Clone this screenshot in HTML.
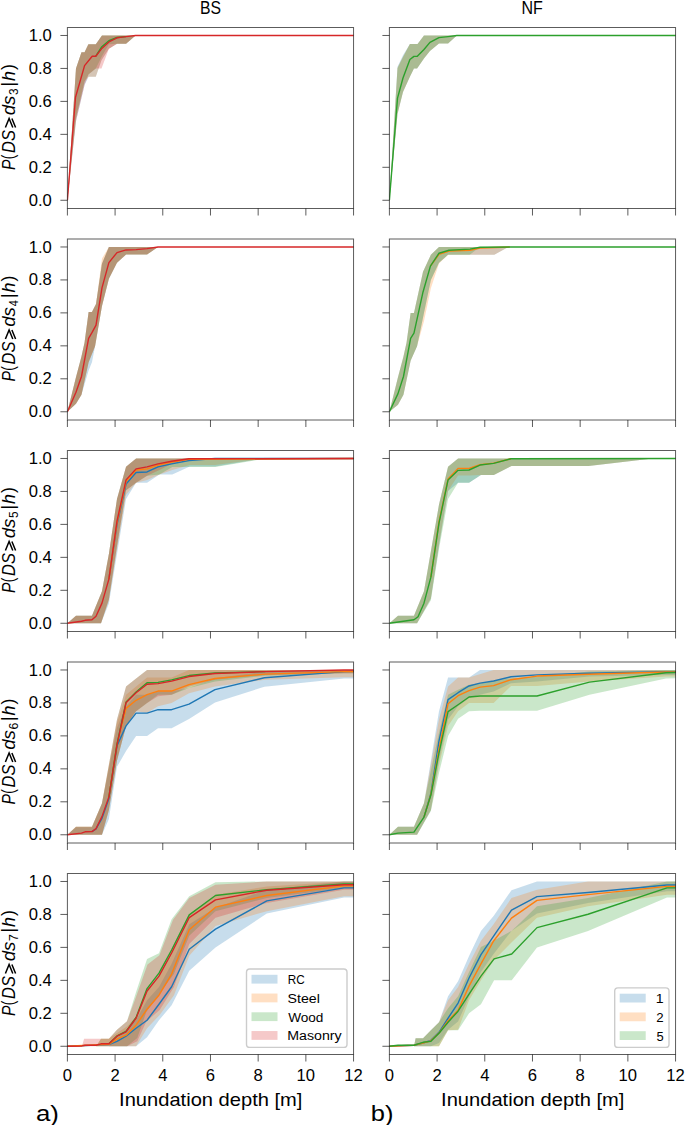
<!DOCTYPE html>
<html><head><meta charset="utf-8"><title>Fragility curves</title>
<style>html,body{margin:0;padding:0;background:#fff;}body{width:685px;height:1125px;overflow:hidden;font-family:"Liberation Sans",sans-serif;}svg{display:block;}</style>
</head><body>
<svg width="685" height="1125" viewBox="0 0 685 1125">
<rect width="685" height="1125" fill="#fff"/>
<defs>
<clipPath id="c00"><rect x="67.40" y="27.50" width="286.15" height="181.00"/></clipPath>
<clipPath id="c01"><rect x="389.40" y="27.50" width="286.15" height="181.00"/></clipPath>
<clipPath id="c10"><rect x="67.40" y="239.00" width="286.15" height="181.00"/></clipPath>
<clipPath id="c11"><rect x="389.40" y="239.00" width="286.15" height="181.00"/></clipPath>
<clipPath id="c20"><rect x="67.40" y="450.50" width="286.15" height="181.00"/></clipPath>
<clipPath id="c21"><rect x="389.40" y="450.50" width="286.15" height="181.00"/></clipPath>
<clipPath id="c30"><rect x="67.40" y="662.00" width="286.15" height="181.00"/></clipPath>
<clipPath id="c31"><rect x="389.40" y="662.00" width="286.15" height="181.00"/></clipPath>
<clipPath id="c40"><rect x="67.40" y="873.50" width="286.15" height="181.00"/></clipPath>
<clipPath id="c41"><rect x="389.40" y="873.50" width="286.15" height="181.00"/></clipPath>
</defs>
<g clip-path="url(#c00)">
<polygon points="67.40,200.27 75.98,68.43 81.47,52.28 84.57,52.28 88.38,44.20 95.78,44.20 101.98,35.47 360.70,35.47 360.70,35.47 135.60,35.47 126.06,43.71 117.00,43.71 108.89,48.65 101.50,60.19 95.78,76.67 88.62,76.67 84.57,84.91 81.47,98.09 75.98,121.17 67.40,200.27" fill="#1f77b4" fill-opacity="0.25"/>
<polygon points="67.40,200.27 75.98,68.43 81.47,52.28 84.57,52.28 88.38,44.20 95.78,44.20 101.98,35.47 360.70,35.47 360.70,35.47 135.60,35.47 126.06,43.71 117.00,43.71 108.89,48.65 101.50,60.19 95.78,76.67 88.62,76.67 84.57,81.61 81.47,94.80 75.98,117.87 67.40,200.27" fill="#ff7f0e" fill-opacity="0.25"/>
<polygon points="67.40,200.27 75.98,68.43 81.47,52.28 84.57,52.28 88.38,44.20 95.78,44.20 101.98,35.47 360.70,35.47 360.70,35.47 135.60,35.47 126.06,43.71 117.00,43.71 108.89,44.20 101.50,56.89 95.78,68.43 88.62,74.20 84.57,81.61 81.47,94.80 75.98,117.87 67.40,200.27" fill="#2ca02c" fill-opacity="0.25"/>
<polygon points="67.40,200.27 75.98,68.43 81.47,52.28 84.57,52.28 88.38,44.20 95.78,44.20 101.98,35.47 360.70,35.47 360.70,35.47 135.60,35.47 126.06,43.71 117.00,43.71 108.89,48.65 101.50,68.43 95.78,68.43 88.62,74.20 84.57,84.91 81.47,98.09 75.98,121.17 67.40,200.27" fill="#d62728" fill-opacity="0.25"/>
<polyline points="95.78,56.23 101.50,47.01 108.89,40.74 117.00,37.45 126.06,36.62" fill="none" stroke="#2ca02c" stroke-width="1.40" stroke-linejoin="round"/>
<polyline points="67.40,200.27 75.51,97.27 84.57,65.63 92.20,56.23 95.78,56.23 101.50,48.82 108.89,41.90 117.00,37.78 126.06,36.62 135.60,35.47 360.70,35.47" fill="none" stroke="#d62728" stroke-width="1.40" stroke-linejoin="round"/>
</g>
<g clip-path="url(#c01)">
<polygon points="389.40,200.27 397.51,66.78 402.99,55.25 409.91,44.04 417.54,44.04 423.98,35.47 682.70,35.47 682.70,35.47 456.88,35.47 448.06,43.55 439.00,43.55 429.94,50.96 423.98,58.54 417.06,68.43 413.96,68.43 409.91,76.67 402.99,92.00 397.51,113.91 389.40,200.27" fill="#1f77b4" fill-opacity="0.25"/>
<polygon points="389.40,200.27 397.51,67.94 402.99,56.89 409.91,44.04 417.54,44.04 423.98,35.47 682.70,35.47 682.70,35.47 456.88,35.47 448.06,43.55 439.00,43.55 429.94,50.96 423.98,58.54 417.06,68.43 413.96,68.43 409.91,76.67 402.99,92.00 397.51,113.91 389.40,200.27" fill="#ff7f0e" fill-opacity="0.25"/>
<polygon points="389.40,200.27 397.51,67.94 402.99,56.89 409.91,44.04 417.54,44.04 423.98,35.47 682.70,35.47 682.70,35.47 456.88,35.47 448.06,43.55 439.00,43.55 429.94,50.96 423.98,58.54 417.06,68.43 413.96,68.43 409.91,76.67 402.99,92.00 397.51,113.91 389.40,200.27" fill="#2ca02c" fill-opacity="0.25"/>
<polyline points="389.40,200.27 397.51,98.09 402.99,77.99 409.91,59.53 413.96,56.40 417.06,56.40 423.98,49.48 429.94,42.39 439.00,37.61 448.06,36.62 456.88,35.47 682.70,35.47" fill="none" stroke="#2ca02c" stroke-width="1.40" stroke-linejoin="round"/>
</g>
<g clip-path="url(#c10)">
<polygon points="67.40,411.77 75.98,377.16 81.47,356.56 84.57,342.55 88.62,312.07 91.96,312.07 96.02,303.99 101.98,263.78 108.89,246.97 360.70,246.97 360.70,246.97 158.01,246.97 147.05,254.55 126.06,254.55 117.00,262.63 108.89,278.78 101.98,305.97 95.06,346.34 91.96,362.33 88.62,370.57 81.47,394.63 75.98,403.69 67.40,411.77" fill="#1f77b4" fill-opacity="0.25"/>
<polygon points="67.40,411.77 75.98,377.16 81.47,356.56 84.57,342.55 88.62,312.07 91.96,312.07 96.02,303.99 101.98,258.51 108.89,246.97 360.70,246.97 360.70,246.97 158.01,246.97 147.05,254.55 126.06,254.55 117.00,262.63 108.89,278.78 101.98,305.97 95.06,346.34 88.62,362.33 81.47,394.63 75.98,403.69 67.40,411.77" fill="#ff7f0e" fill-opacity="0.25"/>
<polygon points="67.40,411.77 75.98,377.16 81.47,356.56 84.57,342.55 88.62,312.07 91.96,312.07 96.02,303.99 101.98,263.78 108.89,246.97 360.70,246.97 360.70,246.97 158.01,246.97 147.05,254.55 126.06,254.55 117.00,262.63 108.89,278.78 101.98,305.97 95.06,346.34 88.62,362.33 81.47,394.63 75.98,403.69 67.40,411.77" fill="#2ca02c" fill-opacity="0.25"/>
<polygon points="67.40,411.77 75.98,377.16 81.47,356.56 84.57,342.55 88.62,312.07 91.96,312.07 96.02,303.99 101.98,263.78 108.89,246.97 360.70,246.97 360.70,246.97 158.01,246.97 147.05,254.55 126.06,254.55 117.00,262.63 108.89,278.78 101.98,305.97 95.06,346.34 88.62,362.33 81.47,394.63 75.98,403.69 67.40,411.77" fill="#d62728" fill-opacity="0.25"/>
<polyline points="67.40,411.77 75.98,392.16 81.47,376.50 88.62,338.27 91.96,332.67 96.02,325.09 101.98,287.84 108.89,262.63 117.00,252.57 126.06,249.94 136.08,249.61 147.05,248.62 158.01,246.97 360.70,246.97" fill="none" stroke="#d62728" stroke-width="1.40" stroke-linejoin="round"/>
</g>
<g clip-path="url(#c11)">
<polygon points="389.40,411.77 397.98,377.16 403.47,356.56 406.57,342.55 410.62,312.89 413.96,312.89 423.02,271.69 430.89,254.72 439.00,246.97 682.70,246.97 682.70,246.97 508.39,246.97 494.32,254.72 448.06,254.72 439.00,262.63 430.89,279.93 423.98,312.89 417.06,346.34 410.62,360.68 403.47,394.63 397.98,404.68 389.40,411.77" fill="#1f77b4" fill-opacity="0.25"/>
<polygon points="389.40,411.77 397.98,377.16 403.47,356.56 406.57,342.55 410.62,312.89 413.96,312.89 423.02,271.69 430.89,254.72 439.00,246.97 682.70,246.97 682.70,246.97 508.39,246.97 494.32,254.72 448.06,254.72 439.00,263.45 430.89,288.17 423.98,321.13 417.06,346.34 410.62,360.68 403.47,394.63 397.98,404.68 389.40,411.77" fill="#ff7f0e" fill-opacity="0.25"/>
<polygon points="389.40,411.77 397.98,377.16 403.47,356.56 406.57,342.55 410.62,312.89 413.96,312.89 423.02,271.69 430.89,254.72 439.00,246.97 682.70,246.97 682.70,246.97 479.78,246.97 469.76,254.72 448.06,254.72 439.00,262.63 430.89,279.93 423.98,312.89 417.06,346.34 410.62,360.68 403.47,394.63 397.98,404.68 389.40,411.77" fill="#2ca02c" fill-opacity="0.25"/>
<polyline points="430.41,266.09 439.00,254.39 449.01,251.09 470.00,250.27 480.01,247.96 509.82,246.97" fill="none" stroke="#ff7f0e" stroke-width="1.40" stroke-linejoin="round"/>
<polyline points="389.40,411.77 397.98,393.64 403.47,376.50 410.62,338.27 413.96,333.16 423.02,291.96 430.41,266.09 439.00,253.23 449.01,250.27 470.00,249.11 480.01,247.30 509.82,246.97 682.70,246.97" fill="none" stroke="#2ca02c" stroke-width="1.40" stroke-linejoin="round"/>
</g>
<g clip-path="url(#c20)">
<polygon points="67.40,623.27 75.98,615.69 91.96,615.69 101.98,591.13 108.89,554.05 117.00,499.01 126.06,466.87 136.08,458.47 360.70,458.47 360.70,458.47 254.11,460.12 215.24,466.38 189.73,466.38 172.32,474.62 159.44,474.62 147.05,482.86 136.08,482.86 126.06,499.01 117.00,554.05 108.89,603.49 101.02,623.27 67.40,623.27" fill="#1f77b4" fill-opacity="0.25"/>
<polygon points="67.40,623.27 75.98,615.69 91.96,615.69 101.98,591.13 108.89,554.05 117.00,499.01 126.06,466.87 136.08,458.47 360.70,458.47 360.70,458.47 254.11,460.12 215.24,465.06 189.73,465.06 172.32,470.01 159.44,474.62 147.05,479.89 136.08,482.86 126.06,494.73 117.00,549.11 108.89,600.20 101.02,623.27 67.40,623.27" fill="#ff7f0e" fill-opacity="0.25"/>
<polygon points="67.40,623.27 75.98,615.69 91.96,615.69 101.98,591.13 108.89,554.05 117.00,499.01 126.06,466.87 136.08,458.47 360.70,458.47 360.70,458.47 266.51,458.47 215.24,467.04 189.73,467.04 172.32,467.04 159.44,474.62 147.05,475.77 136.08,482.86 126.06,490.28 117.00,545.81 108.89,599.21 101.02,623.27 67.40,623.27" fill="#2ca02c" fill-opacity="0.25"/>
<polygon points="67.40,623.27 75.98,615.69 91.96,615.69 101.98,591.13 108.89,554.05 117.00,499.01 126.06,466.87 136.08,458.47 360.70,458.47 360.70,458.47 189.73,458.47 172.32,463.41 159.44,470.01 147.05,475.77 136.08,482.86 126.06,490.28 117.00,545.81 108.89,599.21 101.02,623.27 67.40,623.27" fill="#d62728" fill-opacity="0.25"/>
<polyline points="108.89,579.10 117.00,524.39 126.06,484.01 136.08,472.48 147.05,471.98 158.01,466.87 171.61,463.91 189.01,460.45 215.01,458.47 360.70,458.47" fill="none" stroke="#1f77b4" stroke-width="1.40" stroke-linejoin="round"/>
<polyline points="108.89,579.10 117.00,522.74 126.06,481.54 136.08,470.01 147.05,468.85 158.01,465.06 171.61,462.10 189.01,459.29 360.70,458.47" fill="none" stroke="#ff7f0e" stroke-width="1.40" stroke-linejoin="round"/>
<polyline points="67.40,623.27 81.47,621.29 85.05,620.30 91.96,619.81 96.02,616.18 101.98,603.16 108.89,579.10 117.00,521.09 126.06,479.89 136.08,468.85 147.05,466.87 158.01,463.91 171.61,461.27 189.01,458.80 360.70,458.47" fill="none" stroke="#d62728" stroke-width="1.40" stroke-linejoin="round"/>
</g>
<g clip-path="url(#c21)">
<polygon points="389.40,623.27 397.98,615.69 413.96,615.69 423.98,591.13 439.00,504.61 448.06,466.87 458.08,458.47 682.70,458.47 682.70,458.47 652.66,458.47 588.51,465.89 511.49,465.89 493.84,474.95 480.97,474.95 469.05,482.86 458.08,482.86 448.06,490.94 439.00,545.81 430.89,598.55 417.06,623.27 389.40,623.27" fill="#1f77b4" fill-opacity="0.25"/>
<polygon points="389.40,623.27 397.98,615.69 413.96,615.69 423.98,591.13 439.00,504.61 448.06,466.87 458.08,458.47 682.70,458.47 682.70,458.47 652.66,458.47 588.51,465.89 511.49,465.89 493.84,474.95 480.97,474.95 469.05,475.44 458.08,475.44 448.06,490.94 439.00,544.17 430.89,598.22 417.06,623.27 389.40,623.27" fill="#ff7f0e" fill-opacity="0.25"/>
<polygon points="389.40,623.27 397.98,615.69 413.96,615.69 423.98,591.13 439.00,504.61 448.06,466.87 458.08,458.47 682.70,458.47 682.70,458.47 652.66,458.47 588.51,465.89 511.49,465.89 493.84,474.95 480.97,474.95 469.05,482.86 458.08,482.86 448.06,499.01 439.00,549.11 430.89,600.20 417.06,623.27 389.40,623.27" fill="#2ca02c" fill-opacity="0.25"/>
<polyline points="430.89,577.13 439.00,521.92 448.06,479.07 458.08,468.36 469.05,468.36 480.01,464.73 493.61,463.08 511.01,458.80" fill="none" stroke="#ff7f0e" stroke-width="1.40" stroke-linejoin="round"/>
<polyline points="389.40,623.27 403.47,621.29 413.96,619.81 418.01,616.68 423.98,603.16 430.89,577.13 439.00,523.07 448.06,479.89 458.08,470.34 469.05,470.01 480.01,465.06 493.61,463.41 511.01,458.80 682.70,458.47" fill="none" stroke="#2ca02c" stroke-width="1.40" stroke-linejoin="round"/>
</g>
<g clip-path="url(#c30)">
<polygon points="67.40,834.77 75.98,827.19 91.96,827.19 101.98,803.46 117.00,727.65 126.06,706.23 136.08,694.69 147.05,694.69 158.01,691.39 171.61,691.39 189.01,688.10 215.01,678.21 265.32,671.62 360.70,669.97 360.70,678.54 344.01,678.54 264.37,686.78 215.01,702.60 189.01,718.92 171.61,728.31 158.01,728.31 147.05,735.89 136.08,735.89 126.06,750.89 117.00,766.87 108.89,819.11 101.98,834.77 67.40,834.77" fill="#1f77b4" fill-opacity="0.25"/>
<polygon points="67.40,834.77 75.98,826.69 91.96,826.69 101.98,803.13 117.00,722.71 126.06,694.69 136.08,686.61 147.05,677.55 171.61,677.55 189.01,669.97 360.70,669.97 360.70,677.22 344.01,677.22 265.32,679.86 215.01,686.45 189.01,693.37 171.61,702.93 158.01,706.23 147.05,712.82 136.08,711.17 126.06,726.00 117.00,760.61 108.89,810.05 101.98,834.77 67.40,834.77" fill="#ff7f0e" fill-opacity="0.25"/>
<polygon points="67.40,834.77 75.98,826.69 91.96,826.69 101.98,803.13 117.00,719.41 126.06,686.61 136.08,678.54 147.05,669.97 360.70,669.97 360.70,673.27 344.01,673.27 265.32,675.74 215.01,681.51 189.01,688.10 171.61,694.69 158.01,694.69 147.05,702.93 136.08,711.17 126.06,726.00 117.00,760.61 108.89,810.05 101.98,834.77 67.40,834.77" fill="#2ca02c" fill-opacity="0.25"/>
<polygon points="67.40,834.77 75.98,826.69 91.96,826.69 101.98,803.13 117.00,719.41 126.06,686.61 136.08,678.54 147.05,669.97 360.70,669.97 360.70,673.27 344.01,673.27 265.32,674.91 215.01,679.86 189.01,686.45 171.61,694.69 158.01,696.34 147.05,702.93 136.08,711.17 126.06,726.00 117.00,760.61 108.89,810.05 101.98,834.77 67.40,834.77" fill="#d62728" fill-opacity="0.25"/>
<polyline points="91.96,831.64 96.02,829.00 101.98,818.29 108.89,798.51 117.00,745.78 126.06,725.84 136.08,713.15 147.05,713.15 158.01,709.69 171.61,709.69 189.01,704.08 215.01,689.58 264.37,677.72 344.01,671.62 360.70,670.96" fill="none" stroke="#1f77b4" stroke-width="1.40" stroke-linejoin="round"/>
<polyline points="108.89,797.03 117.00,744.13 126.06,708.37 136.08,700.29 147.05,694.69 158.01,691.06 171.61,691.06 189.01,684.64 215.01,678.54 265.32,674.09 344.01,671.62 360.70,671.62" fill="none" stroke="#ff7f0e" stroke-width="1.40" stroke-linejoin="round"/>
<polyline points="108.89,797.03 117.00,744.13 126.06,702.11 136.08,692.05 147.05,682.82 158.01,682.33 171.61,679.86 189.01,675.57 215.01,672.94 265.32,671.62" fill="none" stroke="#2ca02c" stroke-width="1.40" stroke-linejoin="round"/>
<polyline points="67.40,834.77 81.47,833.12 85.05,831.80 91.96,831.64 96.02,828.67 101.98,816.64 108.89,797.03 117.00,744.79 126.06,702.77 136.08,692.71 147.05,684.31 158.01,683.65 171.61,681.18 189.01,676.56 215.01,673.43 265.32,671.62 344.01,669.97 360.70,669.97" fill="none" stroke="#d62728" stroke-width="1.40" stroke-linejoin="round"/>
</g>
<g clip-path="url(#c31)">
<polygon points="389.40,834.77 397.98,826.69 413.96,826.69 423.98,803.13 439.00,711.17 448.06,677.55 469.05,677.55 480.01,669.97 682.70,669.97 682.70,674.91 666.01,674.91 589.47,676.56 537.01,681.51 511.01,683.15 493.61,691.39 480.01,694.69 469.05,697.99 458.08,706.23 448.06,719.41 439.00,760.61 430.89,810.05 417.06,834.77 389.40,834.77" fill="#1f77b4" fill-opacity="0.25"/>
<polygon points="389.40,834.77 397.98,826.69 413.96,826.69 423.98,803.13 439.00,719.41 448.06,686.45 458.08,677.55 469.05,677.55 493.61,669.97 682.70,669.97 682.70,676.56 666.01,676.56 589.47,681.51 537.01,685.96 511.01,685.96 493.61,702.93 480.01,702.93 469.05,702.93 458.08,711.17 448.06,726.00 439.00,765.55 430.89,810.05 417.06,834.77 389.40,834.77" fill="#ff7f0e" fill-opacity="0.25"/>
<polygon points="389.40,834.77 397.98,826.69 413.96,826.69 423.98,803.13 439.00,732.59 448.06,694.69 458.08,689.75 469.05,684.80 480.01,683.15 511.01,678.21 537.01,676.56 589.47,671.62 666.01,669.97 682.70,669.97 682.70,678.21 666.01,678.54 589.47,694.69 537.01,710.84 480.01,710.84 469.05,711.33 458.08,718.75 448.06,735.89 439.00,772.97 430.89,811.04 417.06,834.77 389.40,834.77" fill="#2ca02c" fill-opacity="0.25"/>
<polyline points="423.98,817.14 430.89,793.57 439.00,740.83 448.06,699.63 458.08,692.71 469.05,685.96 480.01,683.15 493.61,681.01 511.01,676.73 537.01,674.91 588.51,673.27 666.01,671.62 682.70,671.62" fill="none" stroke="#1f77b4" stroke-width="1.40" stroke-linejoin="round"/>
<polyline points="423.98,817.14 430.89,794.39 439.00,749.07 448.06,703.75 458.08,695.68 469.05,690.57 480.01,687.11 493.61,685.63 511.01,679.69 537.01,676.07 588.51,674.25 666.01,671.95 682.70,671.95" fill="none" stroke="#ff7f0e" stroke-width="1.40" stroke-linejoin="round"/>
<polyline points="389.40,834.77 397.98,833.12 413.96,832.13 423.98,817.14 430.89,795.05 439.00,752.86 448.06,711.66 458.08,704.74 469.05,697.00 480.01,696.01 510.06,696.01 537.01,696.01 589.47,682.17 666.01,672.77 682.70,672.44" fill="none" stroke="#2ca02c" stroke-width="1.40" stroke-linejoin="round"/>
</g>
<g clip-path="url(#c40)">
<polygon points="67.40,1046.27 108.89,1046.27 117.00,1036.38 126.06,1029.79 136.08,1019.90 147.05,1000.13 158.97,986.94 171.61,963.87 189.25,924.32 215.48,907.84 266.75,889.71 344.01,881.47 360.70,881.47 360.70,897.46 344.01,897.46 266.75,913.61 215.48,947.39 189.25,970.63 171.61,1005.23 158.97,1020.23 147.05,1037.21 136.08,1046.27 67.40,1046.27" fill="#1f77b4" fill-opacity="0.25"/>
<polygon points="67.40,1046.27 96.02,1046.27 101.02,1038.69 108.89,1038.69 117.00,1033.09 127.01,1026.49 136.08,1016.61 147.05,990.24 158.97,975.41 171.61,950.69 189.25,914.43 215.48,894.65 266.75,886.41 344.01,881.47 360.70,881.47 360.70,896.30 344.01,896.30 266.75,911.13 215.48,925.97 189.25,955.63 173.99,995.18 159.68,1014.96 147.05,1028.14 136.08,1046.27 67.40,1046.27" fill="#ff7f0e" fill-opacity="0.25"/>
<polygon points="67.40,1046.27 96.02,1046.27 101.02,1038.69 108.89,1038.69 117.00,1029.79 127.01,1021.22 136.08,991.89 147.05,958.93 158.97,953.16 171.61,919.37 189.25,896.30 215.48,882.13 266.75,881.47 360.70,881.47 360.70,888.06 344.01,888.06 266.75,897.95 215.48,911.13 189.25,935.85 173.99,973.76 159.68,993.53 146.33,1011.99 137.27,1038.03 127.01,1046.27 67.40,1046.27" fill="#2ca02c" fill-opacity="0.25"/>
<polygon points="67.40,1046.27 81.95,1046.27 84.09,1038.69 108.89,1038.69 117.00,1029.79 127.01,1021.22 136.08,996.83 147.52,964.53 159.44,955.30 173.04,919.87 189.25,897.95 215.48,884.77 266.75,881.47 360.70,881.47 360.70,889.71 344.01,889.71 266.75,902.89 215.48,917.73 189.25,944.09 173.99,986.94 159.68,1010.01 146.33,1021.55 137.27,1041.33 127.01,1046.27 67.40,1046.27" fill="#d62728" fill-opacity="0.25"/>
<polyline points="67.40,1046.27 108.89,1044.62 117.00,1041.33 126.06,1036.22 136.08,1028.31 147.05,1020.23 158.97,1004.25 171.61,986.78 189.25,949.20 215.48,929.10 266.75,900.92 344.01,887.90 360.70,887.90" fill="none" stroke="#1f77b4" stroke-width="1.40" stroke-linejoin="round"/>
<polyline points="67.40,1046.27 108.89,1044.29 117.00,1039.18 126.06,1035.23 136.08,1025.18 147.05,1009.19 158.97,995.18 171.61,974.09 189.25,929.76 215.48,907.18 266.75,895.48 344.01,885.92 360.70,885.92" fill="none" stroke="#ff7f0e" stroke-width="1.40" stroke-linejoin="round"/>
<polyline points="108.89,1043.80 117.00,1035.89 126.06,1031.44 136.08,1017.43 147.05,988.59 158.97,973.10 171.61,950.03 189.25,914.92 215.48,895.48 266.75,889.71 344.01,883.94 360.70,883.94" fill="none" stroke="#2ca02c" stroke-width="1.40" stroke-linejoin="round"/>
<polyline points="67.40,1046.27 81.95,1045.94 85.05,1045.28 96.02,1045.28 101.02,1043.80 108.89,1043.80 117.00,1036.22 126.06,1031.77 136.08,1018.25 147.05,991.06 158.97,976.07 171.61,952.99 189.25,917.56 215.48,899.93 266.75,890.20 344.01,884.77 360.70,884.77" fill="none" stroke="#d62728" stroke-width="1.40" stroke-linejoin="round"/>
</g>
<g clip-path="url(#c41)">
<polygon points="389.40,1046.27 413.96,1046.27 415.63,1038.19 423.02,1038.19 430.89,1030.28 439.00,1022.21 448.06,996.17 458.08,981.17 469.05,956.12 480.97,930.91 493.61,915.91 511.49,890.20 537.01,881.47 682.70,881.47 682.70,891.36 666.97,891.36 588.04,902.89 537.01,913.61 511.49,930.91 493.61,953.98 480.97,972.11 469.05,996.83 458.08,1021.55 448.06,1029.79 439.00,1042.97 430.89,1046.27 389.40,1046.27" fill="#1f77b4" fill-opacity="0.25"/>
<polygon points="389.40,1046.27 413.96,1046.27 415.63,1038.19 423.02,1038.19 430.89,1030.28 439.00,1022.21 448.06,1000.13 458.08,986.94 469.05,963.87 480.97,940.80 493.61,924.32 511.49,897.95 537.01,889.71 588.04,881.47 682.70,881.47 682.70,894.65 666.97,894.65 588.04,906.19 537.01,917.73 511.49,942.45 493.61,960.57 480.97,980.35 469.05,1000.13 458.08,1029.79 448.06,1030.28 439.00,1046.27 389.40,1046.27" fill="#ff7f0e" fill-opacity="0.25"/>
<polygon points="389.40,1046.27 413.96,1046.27 415.63,1038.19 423.02,1038.19 430.89,1030.28 439.00,1022.21 448.06,1008.37 458.08,996.17 469.05,972.11 480.97,947.06 493.61,940.80 511.49,930.91 521.03,922.01 537.01,906.19 588.04,897.95 666.97,881.47 682.70,881.47 682.70,897.46 666.97,897.46 588.04,931.07 537.01,947.39 511.73,980.35 494.08,980.35 480.97,1004.25 469.05,1013.31 458.08,1030.28 448.06,1030.28 439.00,1046.27 389.40,1046.27" fill="#2ca02c" fill-opacity="0.25"/>
<polyline points="389.40,1046.27 413.96,1045.28 423.02,1042.97 430.89,1040.34 439.00,1032.26 448.06,1018.25 458.08,1003.09 469.05,978.04 480.97,954.64 493.61,936.02 511.49,910.15 537.01,896.63 588.04,892.51 666.97,884.93 682.70,884.93" fill="none" stroke="#1f77b4" stroke-width="1.40" stroke-linejoin="round"/>
<polyline points="389.40,1046.27 413.96,1045.28 423.02,1042.97 430.89,1040.83 439.00,1033.09 448.06,1020.73 458.08,1010.18 469.05,986.12 480.97,963.87 493.61,940.96 511.49,918.06 537.01,900.42 588.04,894.65 666.97,886.41 682.70,886.41" fill="none" stroke="#ff7f0e" stroke-width="1.40" stroke-linejoin="round"/>
<polyline points="389.40,1046.27 397.98,1045.28 413.96,1045.28 423.02,1042.31 430.89,1041.33 439.00,1033.25 448.06,1022.21 458.08,1011.17 469.05,994.19 480.97,976.07 494.08,958.93 511.73,953.98 537.01,927.61 588.04,914.27 666.97,887.90 682.70,887.90" fill="none" stroke="#2ca02c" stroke-width="1.40" stroke-linejoin="round"/>
</g>
<rect x="67.40" y="27.50" width="286.15" height="181.00" fill="none" stroke="#000" stroke-opacity="0.64" stroke-width="1"/>
<path d="M60.40 200.27H67.40M60.40 167.31H67.40M60.40 134.35H67.40M60.40 101.39H67.40M60.40 68.43H67.40M60.40 35.47H67.40M67.40 208.50V215.50M115.09 208.50V215.50M162.78 208.50V215.50M210.47 208.50V215.50M258.17 208.50V215.50M305.86 208.50V215.50M353.55 208.50V215.50" fill="none" stroke="#000" stroke-opacity="0.64" stroke-width="1"/>
<rect x="389.40" y="27.50" width="286.15" height="181.00" fill="none" stroke="#000" stroke-opacity="0.64" stroke-width="1"/>
<path d="M382.40 200.27H389.40M382.40 167.31H389.40M382.40 134.35H389.40M382.40 101.39H389.40M382.40 68.43H389.40M382.40 35.47H389.40M389.40 208.50V215.50M437.09 208.50V215.50M484.78 208.50V215.50M532.47 208.50V215.50M580.17 208.50V215.50M627.86 208.50V215.50M675.55 208.50V215.50" fill="none" stroke="#000" stroke-opacity="0.64" stroke-width="1"/>
<rect x="67.40" y="239.00" width="286.15" height="181.00" fill="none" stroke="#000" stroke-opacity="0.64" stroke-width="1"/>
<path d="M60.40 411.77H67.40M60.40 378.81H67.40M60.40 345.85H67.40M60.40 312.89H67.40M60.40 279.93H67.40M60.40 246.97H67.40M67.40 420.00V427.00M115.09 420.00V427.00M162.78 420.00V427.00M210.47 420.00V427.00M258.17 420.00V427.00M305.86 420.00V427.00M353.55 420.00V427.00" fill="none" stroke="#000" stroke-opacity="0.64" stroke-width="1"/>
<rect x="389.40" y="239.00" width="286.15" height="181.00" fill="none" stroke="#000" stroke-opacity="0.64" stroke-width="1"/>
<path d="M382.40 411.77H389.40M382.40 378.81H389.40M382.40 345.85H389.40M382.40 312.89H389.40M382.40 279.93H389.40M382.40 246.97H389.40M389.40 420.00V427.00M437.09 420.00V427.00M484.78 420.00V427.00M532.47 420.00V427.00M580.17 420.00V427.00M627.86 420.00V427.00M675.55 420.00V427.00" fill="none" stroke="#000" stroke-opacity="0.64" stroke-width="1"/>
<rect x="67.40" y="450.50" width="286.15" height="181.00" fill="none" stroke="#000" stroke-opacity="0.64" stroke-width="1"/>
<path d="M60.40 623.27H67.40M60.40 590.31H67.40M60.40 557.35H67.40M60.40 524.39H67.40M60.40 491.43H67.40M60.40 458.47H67.40M67.40 631.50V638.50M115.09 631.50V638.50M162.78 631.50V638.50M210.47 631.50V638.50M258.17 631.50V638.50M305.86 631.50V638.50M353.55 631.50V638.50" fill="none" stroke="#000" stroke-opacity="0.64" stroke-width="1"/>
<rect x="389.40" y="450.50" width="286.15" height="181.00" fill="none" stroke="#000" stroke-opacity="0.64" stroke-width="1"/>
<path d="M382.40 623.27H389.40M382.40 590.31H389.40M382.40 557.35H389.40M382.40 524.39H389.40M382.40 491.43H389.40M382.40 458.47H389.40M389.40 631.50V638.50M437.09 631.50V638.50M484.78 631.50V638.50M532.47 631.50V638.50M580.17 631.50V638.50M627.86 631.50V638.50M675.55 631.50V638.50" fill="none" stroke="#000" stroke-opacity="0.64" stroke-width="1"/>
<rect x="67.40" y="662.00" width="286.15" height="181.00" fill="none" stroke="#000" stroke-opacity="0.64" stroke-width="1"/>
<path d="M60.40 834.77H67.40M60.40 801.81H67.40M60.40 768.85H67.40M60.40 735.89H67.40M60.40 702.93H67.40M60.40 669.97H67.40M67.40 843.00V850.00M115.09 843.00V850.00M162.78 843.00V850.00M210.47 843.00V850.00M258.17 843.00V850.00M305.86 843.00V850.00M353.55 843.00V850.00" fill="none" stroke="#000" stroke-opacity="0.64" stroke-width="1"/>
<rect x="389.40" y="662.00" width="286.15" height="181.00" fill="none" stroke="#000" stroke-opacity="0.64" stroke-width="1"/>
<path d="M382.40 834.77H389.40M382.40 801.81H389.40M382.40 768.85H389.40M382.40 735.89H389.40M382.40 702.93H389.40M382.40 669.97H389.40M389.40 843.00V850.00M437.09 843.00V850.00M484.78 843.00V850.00M532.47 843.00V850.00M580.17 843.00V850.00M627.86 843.00V850.00M675.55 843.00V850.00" fill="none" stroke="#000" stroke-opacity="0.64" stroke-width="1"/>
<rect x="67.40" y="873.50" width="286.15" height="181.00" fill="none" stroke="#000" stroke-opacity="0.64" stroke-width="1"/>
<path d="M60.40 1046.27H67.40M60.40 1013.31H67.40M60.40 980.35H67.40M60.40 947.39H67.40M60.40 914.43H67.40M60.40 881.47H67.40M67.40 1054.50V1061.50M115.09 1054.50V1061.50M162.78 1054.50V1061.50M210.47 1054.50V1061.50M258.17 1054.50V1061.50M305.86 1054.50V1061.50M353.55 1054.50V1061.50" fill="none" stroke="#000" stroke-opacity="0.64" stroke-width="1"/>
<rect x="389.40" y="873.50" width="286.15" height="181.00" fill="none" stroke="#000" stroke-opacity="0.64" stroke-width="1"/>
<path d="M382.40 1046.27H389.40M382.40 1013.31H389.40M382.40 980.35H389.40M382.40 947.39H389.40M382.40 914.43H389.40M382.40 881.47H389.40M389.40 1054.50V1061.50M437.09 1054.50V1061.50M484.78 1054.50V1061.50M532.47 1054.50V1061.50M580.17 1054.50V1061.50M627.86 1054.50V1061.50M675.55 1054.50V1061.50" fill="none" stroke="#000" stroke-opacity="0.64" stroke-width="1"/>
<g font-family="Liberation Sans, sans-serif" fill="#000">
<text transform="translate(51.80 205.82) scale(1.0600 1)" font-size="15.70" text-anchor="end">0.0</text>
<text transform="translate(51.80 172.86) scale(1.0600 1)" font-size="15.70" text-anchor="end">0.2</text>
<text transform="translate(51.80 139.90) scale(1.0600 1)" font-size="15.70" text-anchor="end">0.4</text>
<text transform="translate(51.80 106.94) scale(1.0600 1)" font-size="15.70" text-anchor="end">0.6</text>
<text transform="translate(51.80 73.98) scale(1.0600 1)" font-size="15.70" text-anchor="end">0.8</text>
<text transform="translate(51.80 41.02) scale(1.0600 1)" font-size="15.70" text-anchor="end">1.0</text>
<text transform="translate(51.80 417.32) scale(1.0600 1)" font-size="15.70" text-anchor="end">0.0</text>
<text transform="translate(51.80 384.36) scale(1.0600 1)" font-size="15.70" text-anchor="end">0.2</text>
<text transform="translate(51.80 351.40) scale(1.0600 1)" font-size="15.70" text-anchor="end">0.4</text>
<text transform="translate(51.80 318.44) scale(1.0600 1)" font-size="15.70" text-anchor="end">0.6</text>
<text transform="translate(51.80 285.48) scale(1.0600 1)" font-size="15.70" text-anchor="end">0.8</text>
<text transform="translate(51.80 252.52) scale(1.0600 1)" font-size="15.70" text-anchor="end">1.0</text>
<text transform="translate(51.80 628.82) scale(1.0600 1)" font-size="15.70" text-anchor="end">0.0</text>
<text transform="translate(51.80 595.86) scale(1.0600 1)" font-size="15.70" text-anchor="end">0.2</text>
<text transform="translate(51.80 562.90) scale(1.0600 1)" font-size="15.70" text-anchor="end">0.4</text>
<text transform="translate(51.80 529.94) scale(1.0600 1)" font-size="15.70" text-anchor="end">0.6</text>
<text transform="translate(51.80 496.98) scale(1.0600 1)" font-size="15.70" text-anchor="end">0.8</text>
<text transform="translate(51.80 464.02) scale(1.0600 1)" font-size="15.70" text-anchor="end">1.0</text>
<text transform="translate(51.80 840.32) scale(1.0600 1)" font-size="15.70" text-anchor="end">0.0</text>
<text transform="translate(51.80 807.36) scale(1.0600 1)" font-size="15.70" text-anchor="end">0.2</text>
<text transform="translate(51.80 774.40) scale(1.0600 1)" font-size="15.70" text-anchor="end">0.4</text>
<text transform="translate(51.80 741.44) scale(1.0600 1)" font-size="15.70" text-anchor="end">0.6</text>
<text transform="translate(51.80 708.48) scale(1.0600 1)" font-size="15.70" text-anchor="end">0.8</text>
<text transform="translate(51.80 675.52) scale(1.0600 1)" font-size="15.70" text-anchor="end">1.0</text>
<text transform="translate(51.80 1051.82) scale(1.0600 1)" font-size="15.70" text-anchor="end">0.0</text>
<text transform="translate(51.80 1018.86) scale(1.0600 1)" font-size="15.70" text-anchor="end">0.2</text>
<text transform="translate(51.80 985.90) scale(1.0600 1)" font-size="15.70" text-anchor="end">0.4</text>
<text transform="translate(51.80 952.94) scale(1.0600 1)" font-size="15.70" text-anchor="end">0.6</text>
<text transform="translate(51.80 919.98) scale(1.0600 1)" font-size="15.70" text-anchor="end">0.8</text>
<text transform="translate(51.80 887.02) scale(1.0600 1)" font-size="15.70" text-anchor="end">1.0</text>
<text transform="translate(67.40 1081.2) scale(1.0600 1)" font-size="15.70" text-anchor="middle">0</text>
<text transform="translate(115.09 1081.2) scale(1.0600 1)" font-size="15.70" text-anchor="middle">2</text>
<text transform="translate(162.78 1081.2) scale(1.0600 1)" font-size="15.70" text-anchor="middle">4</text>
<text transform="translate(210.47 1081.2) scale(1.0600 1)" font-size="15.70" text-anchor="middle">6</text>
<text transform="translate(258.17 1081.2) scale(1.0600 1)" font-size="15.70" text-anchor="middle">8</text>
<text transform="translate(305.86 1081.2) scale(1.0600 1)" font-size="15.70" text-anchor="middle">10</text>
<text transform="translate(353.55 1081.2) scale(1.0600 1)" font-size="15.70" text-anchor="middle">12</text>
<text transform="translate(389.40 1081.2) scale(1.0600 1)" font-size="15.70" text-anchor="middle">0</text>
<text transform="translate(437.09 1081.2) scale(1.0600 1)" font-size="15.70" text-anchor="middle">2</text>
<text transform="translate(484.78 1081.2) scale(1.0600 1)" font-size="15.70" text-anchor="middle">4</text>
<text transform="translate(532.47 1081.2) scale(1.0600 1)" font-size="15.70" text-anchor="middle">6</text>
<text transform="translate(580.17 1081.2) scale(1.0600 1)" font-size="15.70" text-anchor="middle">8</text>
<text transform="translate(627.86 1081.2) scale(1.0600 1)" font-size="15.70" text-anchor="middle">10</text>
<text transform="translate(675.55 1081.2) scale(1.0600 1)" font-size="15.70" text-anchor="middle">12</text>
<text transform="translate(199.94 14.40) scale(0.8969 1)" font-size="17.60">BS</text>
<text transform="translate(521.52 14.40) scale(0.9110 1)" font-size="17.60">NF</text>
<text transform="translate(119.09 1106.00) scale(1.1433 1)" font-size="17.60">Inundation depth [m]</text>
<text transform="translate(441.09 1106.00) scale(1.1433 1)" font-size="17.60">Inundation depth [m]</text>
<text transform="translate(35.97 1120.80) scale(1.1477 1)" font-size="22.50">a)</text>
<text transform="translate(370.81 1120.80) scale(1.1345 1)" font-size="22.50">b)</text>
</g>
<g transform="translate(14.6 169.80) rotate(-90)" font-family="Liberation Sans, sans-serif" fill="#000">
<text transform="translate(-0.27 0.00) scale(0.8779 1)" font-size="17.90" font-style="italic">P</text>
<text transform="translate(10.59 -0.40) scale(0.7520 1)" font-size="17.90">(</text>
<text transform="translate(16.81 0.00) scale(0.9214 1)" font-size="17.90" font-style="italic">DS</text>
<path d="M42.25 -9.2 L51.25 -5.5 L42.25 -1.8 M42.25 1.0 L51.25 -2.7" fill="none" stroke="#000" stroke-width="1.5" stroke-linecap="butt"/>
<text transform="translate(54.54 0.00) scale(1.0391 1)" font-size="17.90" font-style="italic">ds</text>
<text transform="translate(74.82 3.00) scale(0.9026 1)" font-size="13.20">3</text>
<text transform="translate(83.33 -0.30) scale(0.9777 1)" font-size="17.90">|</text>
<text transform="translate(88.84 0.00) scale(1.0033 1)" font-size="17.90" font-style="italic">h</text>
<text transform="translate(99.92 -0.40) scale(0.9884 1)" font-size="17.90">)</text>
</g>
<g transform="translate(14.6 381.30) rotate(-90)" font-family="Liberation Sans, sans-serif" fill="#000">
<text transform="translate(-0.27 0.00) scale(0.8779 1)" font-size="17.90" font-style="italic">P</text>
<text transform="translate(10.59 -0.40) scale(0.7520 1)" font-size="17.90">(</text>
<text transform="translate(16.81 0.00) scale(0.9214 1)" font-size="17.90" font-style="italic">DS</text>
<path d="M42.25 -9.2 L51.25 -5.5 L42.25 -1.8 M42.25 1.0 L51.25 -2.7" fill="none" stroke="#000" stroke-width="1.5" stroke-linecap="butt"/>
<text transform="translate(54.54 0.00) scale(1.0391 1)" font-size="17.90" font-style="italic">ds</text>
<text transform="translate(75.08 3.00) scale(0.8318 1)" font-size="13.20">4</text>
<text transform="translate(83.33 -0.30) scale(0.9777 1)" font-size="17.90">|</text>
<text transform="translate(88.84 0.00) scale(1.0033 1)" font-size="17.90" font-style="italic">h</text>
<text transform="translate(99.92 -0.40) scale(0.9884 1)" font-size="17.90">)</text>
</g>
<g transform="translate(14.6 592.80) rotate(-90)" font-family="Liberation Sans, sans-serif" fill="#000">
<text transform="translate(-0.27 0.00) scale(0.8779 1)" font-size="17.90" font-style="italic">P</text>
<text transform="translate(10.59 -0.40) scale(0.7520 1)" font-size="17.90">(</text>
<text transform="translate(16.81 0.00) scale(0.9214 1)" font-size="17.90" font-style="italic">DS</text>
<path d="M42.25 -9.2 L51.25 -5.5 L42.25 -1.8 M42.25 1.0 L51.25 -2.7" fill="none" stroke="#000" stroke-width="1.5" stroke-linecap="butt"/>
<text transform="translate(54.54 0.00) scale(1.0391 1)" font-size="17.90" font-style="italic">ds</text>
<text transform="translate(74.82 3.00) scale(0.9026 1)" font-size="13.20">5</text>
<text transform="translate(83.33 -0.30) scale(0.9777 1)" font-size="17.90">|</text>
<text transform="translate(88.84 0.00) scale(1.0033 1)" font-size="17.90" font-style="italic">h</text>
<text transform="translate(99.92 -0.40) scale(0.9884 1)" font-size="17.90">)</text>
</g>
<g transform="translate(14.6 804.30) rotate(-90)" font-family="Liberation Sans, sans-serif" fill="#000">
<text transform="translate(-0.27 0.00) scale(0.8779 1)" font-size="17.90" font-style="italic">P</text>
<text transform="translate(10.59 -0.40) scale(0.7520 1)" font-size="17.90">(</text>
<text transform="translate(16.81 0.00) scale(0.9214 1)" font-size="17.90" font-style="italic">DS</text>
<path d="M42.25 -9.2 L51.25 -5.5 L42.25 -1.8 M42.25 1.0 L51.25 -2.7" fill="none" stroke="#000" stroke-width="1.5" stroke-linecap="butt"/>
<text transform="translate(54.54 0.00) scale(1.0391 1)" font-size="17.90" font-style="italic">ds</text>
<text transform="translate(74.69 3.00) scale(0.9223 1)" font-size="13.20">6</text>
<text transform="translate(83.33 -0.30) scale(0.9777 1)" font-size="17.90">|</text>
<text transform="translate(88.84 0.00) scale(1.0033 1)" font-size="17.90" font-style="italic">h</text>
<text transform="translate(99.92 -0.40) scale(0.9884 1)" font-size="17.90">)</text>
</g>
<g transform="translate(14.6 1015.80) rotate(-90)" font-family="Liberation Sans, sans-serif" fill="#000">
<text transform="translate(-0.27 0.00) scale(0.8779 1)" font-size="17.90" font-style="italic">P</text>
<text transform="translate(10.59 -0.40) scale(0.7520 1)" font-size="17.90">(</text>
<text transform="translate(16.81 0.00) scale(0.9214 1)" font-size="17.90" font-style="italic">DS</text>
<path d="M42.25 -9.2 L51.25 -5.5 L42.25 -1.8 M42.25 1.0 L51.25 -2.7" fill="none" stroke="#000" stroke-width="1.5" stroke-linecap="butt"/>
<text transform="translate(54.54 0.00) scale(1.0391 1)" font-size="17.90" font-style="italic">ds</text>
<text transform="translate(74.69 3.00) scale(0.9223 1)" font-size="13.20">7</text>
<text transform="translate(83.33 -0.30) scale(0.9777 1)" font-size="17.90">|</text>
<text transform="translate(88.84 0.00) scale(1.0033 1)" font-size="17.90" font-style="italic">h</text>
<text transform="translate(99.92 -0.40) scale(0.9884 1)" font-size="17.90">)</text>
</g>
<rect x="246.50" y="969.00" width="100.50" height="78.40" rx="3.2" fill="#fff" fill-opacity="0.8" stroke="#cccccc" stroke-width="1.4"/>
<rect x="251.50" y="974.80" width="26.00" height="8.8" fill="#1f77b4" fill-opacity="0.25"/>
<g font-family="Liberation Sans, sans-serif" fill="#000"><text transform="translate(287.66 984.15) scale(0.8829 1)" font-size="13.30">RC</text></g>
<rect x="251.50" y="993.55" width="26.00" height="8.8" fill="#ff7f0e" fill-opacity="0.25"/>
<g font-family="Liberation Sans, sans-serif" fill="#000"><text transform="translate(287.59 1002.90) scale(1.0652 1)" font-size="13.30">Steel</text></g>
<rect x="251.50" y="1012.30" width="26.00" height="8.8" fill="#2ca02c" fill-opacity="0.25"/>
<g font-family="Liberation Sans, sans-serif" fill="#000"><text transform="translate(288.16 1021.65) scale(1.0234 1)" font-size="13.30">Wood</text></g>
<rect x="251.50" y="1031.05" width="26.00" height="8.8" fill="#d62728" fill-opacity="0.25"/>
<g font-family="Liberation Sans, sans-serif" fill="#000"><text transform="translate(287.16 1040.40) scale(1.0687 1)" font-size="13.30">Masonry</text></g>
<rect x="614.70" y="987.90" width="54.30" height="59.50" rx="3.2" fill="#fff" fill-opacity="0.8" stroke="#cccccc" stroke-width="1.4"/>
<rect x="619.70" y="993.70" width="26.00" height="8.8" fill="#1f77b4" fill-opacity="0.25"/>
<g font-family="Liberation Sans, sans-serif" fill="#000"><text transform="translate(655.77 1003.05) scale(1.0666 1)" font-size="13.30">1</text></g>
<rect x="619.70" y="1012.45" width="26.00" height="8.8" fill="#ff7f0e" fill-opacity="0.25"/>
<g font-family="Liberation Sans, sans-serif" fill="#000"><text transform="translate(656.24 1021.80) scale(0.9971 1)" font-size="13.30">2</text></g>
<rect x="619.70" y="1031.20" width="26.00" height="8.8" fill="#2ca02c" fill-opacity="0.25"/>
<g font-family="Liberation Sans, sans-serif" fill="#000"><text transform="translate(656.38 1040.55) scale(0.9758 1)" font-size="13.30">5</text></g>
</svg>
</body></html>
